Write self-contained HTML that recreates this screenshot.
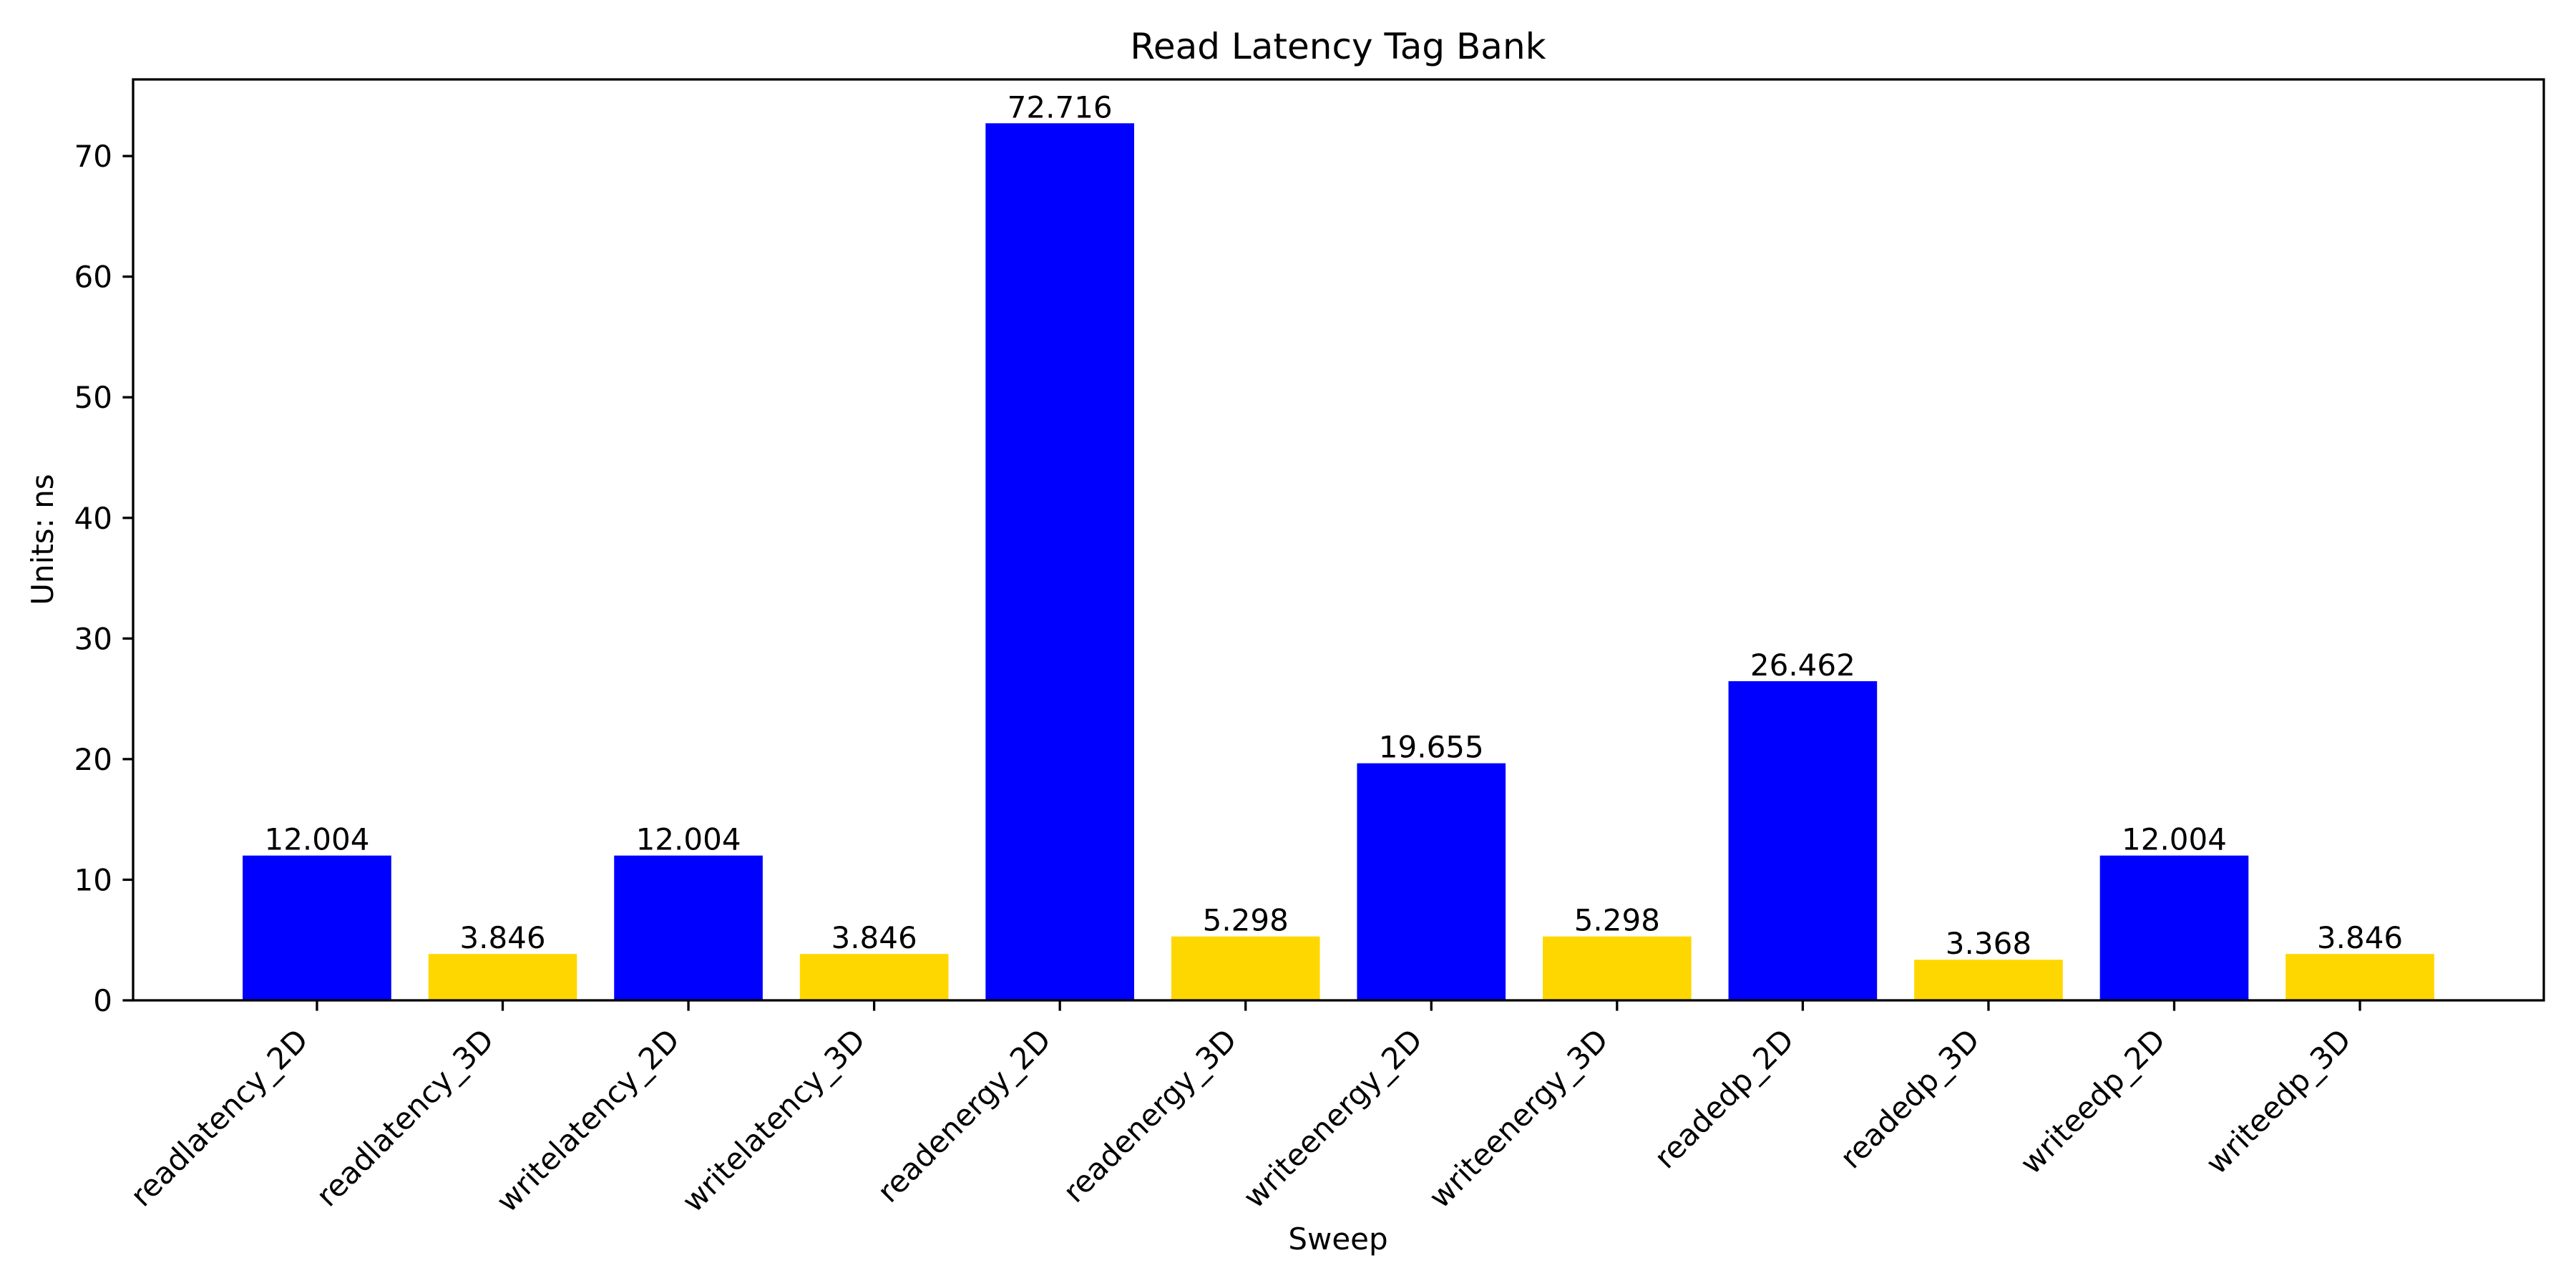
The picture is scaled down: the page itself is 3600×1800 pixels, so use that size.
<!DOCTYPE html>
<html><head><meta charset="utf-8"><style>
html,body{margin:0;padding:0;background:#fff}
svg{display:block;font-family:"DejaVu Sans","Liberation Sans",sans-serif}
</style></head><body>
<svg id="chart" width="3600" height="1800" viewBox="0 0 3600 1800" xmlns="http://www.w3.org/2000/svg">
<rect width="3600" height="1800" fill="#fff"/>
<text x="1870" y="82" font-size="50" text-anchor="middle">Read Latency Tag Bank</text>
<text transform="translate(74,754) rotate(-90)" font-size="42" text-anchor="middle">Units: ns</text>
<text x="1870" y="1746" font-size="42" text-anchor="middle">Sweep</text>
<g id="bars"></g>
<g id="yticks"></g>
<g id="xticks"></g>
<rect x="186" y="111" width="3369" height="1287" fill="none" stroke="#000" stroke-width="3.3"/>
</svg>
<script>
const categories = ["readlatency_2D","readlatency_3D","writelatency_2D","writelatency_3D","readenergy_2D","readenergy_3D","writeenergy_2D","writeenergy_3D","readedp_2D","readedp_3D","writeedp_2D","writeedp_3D"];
const values = [12.004,3.846,12.004,3.846,72.716,5.298,19.655,5.298,26.462,3.368,12.004,3.846];
const valueLabels = ["12.004","3.846","12.004","3.846","72.716","5.298","19.655","5.298","26.462","3.368","12.004","3.846"];
const yTicks = [0,10,20,30,40,50,60,70];

const NS = "http://www.w3.org/2000/svg";
const L = 186, R = 3555, T = 111, B = 1398;
const n = categories.length;
const xmin = -0.4 - 0.05*(n-1+0.8), xmax = n-1+0.4 + 0.05*(n-1+0.8);
const ymax = Math.max(...values)*1.05;
const xs = v => L + (v - xmin)/(xmax - xmin)*(R - L);
const ys = v => B - v/ymax*(B - T);
function mk(tag, attrs, parent){const e=document.createElementNS(NS,tag);for(const k in attrs)e.setAttribute(k,attrs[k]);parent.appendChild(e);return e;}
const gb=document.getElementById('bars'), gy=document.getElementById('yticks'), gx=document.getElementById('xticks');
categories.forEach((c,i)=>{
  const x0=xs(i-0.4), x1=xs(i+0.4), y=ys(values[i]);
  const r=mk('rect',{x:x0,y:y,width:x1-x0,height:B-y,fill:i%2===0?'#0000ff':'#ffd700'},gb);
  
  
  const t=mk('text',{x:xs(i),y:y-8,'font-size':42,'text-anchor':'middle'},gb);
  t.textContent=valueLabels[i];
  
  
  const tk=mk('line',{x1:xs(i),x2:xs(i),y1:B,y2:B+14.6,stroke:'#000','stroke-width':3.3},gx);
  
  
  const lx=xs(i)-10, ly=B+58;
  const lb=mk('text',{x:lx,y:ly,'font-size':42,'text-anchor':'end',transform:`rotate(-45 ${lx} ${ly})`},gx);
  lb.textContent=c;
  
  
});
yTicks.forEach(v=>{
  const y=ys(v);
  const tk=mk('line',{x1:L-14.6,x2:L,y1:y,y2:y,stroke:'#000','stroke-width':3.3},gy);
  
  
  const lb=mk('text',{x:L-29,y:y+15,'font-size':42,'text-anchor':'end'},gy);
  lb.textContent=String(v);
  
  
});
</script>
</body></html>
